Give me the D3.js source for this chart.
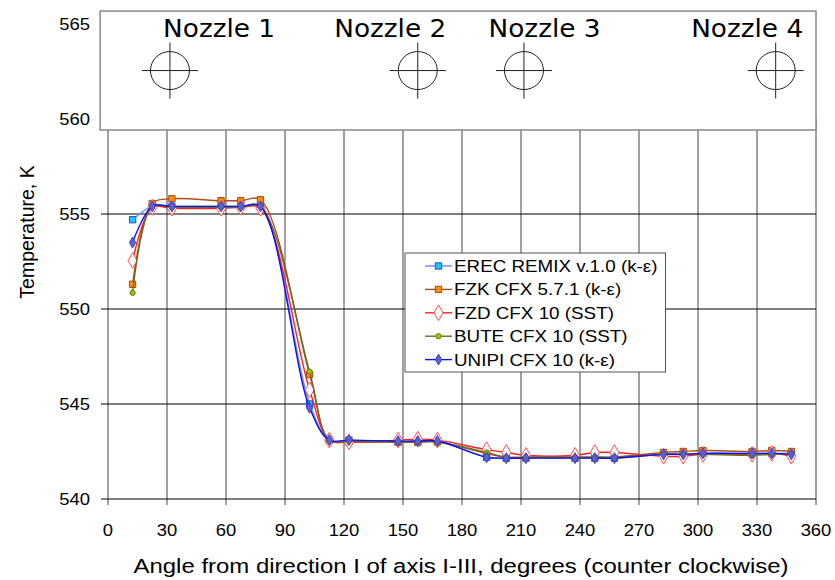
<html>
<script src="https://d3js.org/d3.v7.min.js"></script>
<body style="margin:0;background:#fff">
<style>
    text{ font-family: Arial, "Liberation Sans", sans-serif; fill:#000; }
</style>
<div id="chart"></div>
<script>
    // angles (deg) where the results were sampled
    const angles = [12.5, 22.5, 32.5, 57.5, 67.5, 77.5, 102.5, 112.5, 122.5, 147.5, 157.5, 167.5,
        192.5, 202.5, 212.5, 237.5, 247.5, 257.5, 282.5, 292.5, 302.5, 327.5, 337.5, 347.5];

    const erec  = [554.7, 555.4, 555.4, 555.4, 555.4, 555.4, 545.0, 543.1, 543.1, 543.0, 543.0, 543.05,
        542.2, 542.15, 542.15, 542.15, 542.15, 542.15, 542.35, 542.35, 542.4, 542.4, 542.4, 542.4];
    const fzk   = [551.3, 555.55, 555.8, 555.7, 555.7, 555.75, 546.55, 543.1, 543.0, 543.0, 543.0, 543.0,
        542.4, 542.2, 542.2, 542.2, 542.2, 542.2, 542.45, 542.5, 542.55, 542.5, 542.55, 542.5];
    const fzd   = [552.55, 555.35, 555.3, 555.3, 555.35, 555.3, 545.75, 543.1, 543.0, 543.1, 543.15, 543.1,
        542.6, 542.45, 542.3, 542.3, 542.45, 542.45, 542.25, 542.25, 542.35, 542.35, 542.4, 542.25];
    const bute  = [550.85, 555.4, 555.35, 555.35, 555.35, 555.4, 546.7, 543.1, 543.05, 543.0, 543.0, 543.0,
        542.45, 542.2, 542.2, 542.2, 542.2, 542.2, 542.35, 542.35, 542.35, 542.3, 542.35, 542.4];
    const unipi = [553.5, 555.4, 555.4, 555.4, 555.4, 555.4, 544.8, 543.1, 543.1, 543.05, 543.05, 543.05,
        542.2, 542.15, 542.15, 542.15, 542.15, 542.15, 542.35, 542.35, 542.4, 542.4, 542.4, 542.35];

    const seriesNames = ["EREC REMIX v.1.0 (k-\u03b5)", "FZK CFX 5.7.1 (k-\u03b5)", "FZD CFX 10 (SST)",
        "BUTE CFX 10 (SST)", "UNIPI CFX 10 (k-\u03b5)"];

    const xTicks = [0, 30, 60, 90, 120, 150, 180, 210, 240, 270, 300, 330, 360];
    const yTicks = [540, 545, 550, 555, 560, 565];

    const nozzleNames = ["Nozzle 1", "Nozzle 2", "Nozzle 3", "Nozzle 4"];
    const nozzleAngles = [31.5, 157.5, 211.5, 339.5];

    // styling per series (line, marker)
    const styles = [
        {line: "#6f86ff", shape: d3.symbolSquare, size: 40, fill: "#1ec8ff", stroke: "#2244ee"},
        {line: "#a8501e", shape: d3.symbolSquare, size: 40, fill: "#ff8c10", stroke: "#a04a10"},
        {line: "#ff2020", shape: d3.symbolDiamond, size: 70, fill: "#ffffff", stroke: "#ff5050"},
        {line: "#6b6b2a", shape: d3.symbolCircle, size: 22, fill: "#9cc400", stroke: "#6b7a10"},
        {line: "#1010f0", shape: d3.symbolDiamond, size: 34, fill: "#5a64c8", stroke: "#3a40c0"}
    ];
    const allSeries = [erec, fzk, fzd, bute, unipi];

    const W = 835, H = 580;
    const svg = d3.select("#chart").append("svg").attr("width", W).attr("height", H);

    const x = d3.scaleLinear().domain([0, 360]).range([108, 816]);
    const y = d3.scaleLinear().domain([540, 565]).range([499, 24]);

    // stretch text a bit horizontally, the original is wider than plain Arial
    function stretch(sel, k) {
        sel.each(function () {
            let w = this.getComputedTextLength();
            d3.select(this).attr("textLength", w * k).attr("lengthAdjust", "spacingAndGlyphs");
        });
    }

    // grid - vertical gray, horizontal black
    svg.append("g").selectAll("line").data(xTicks).enter().append("line")
        .attr("x1", d => x(d)).attr("x2", d => x(d))
        .attr("y1", y(560)).attr("y2", y(540) + 6)
        .attr("stroke", "#8a8a8a").attr("stroke-width", 1.6);
    svg.append("g").selectAll("line").data(yTicks.filter(d => d > 540 && d < 560)).enter().append("line")
        .attr("x1", x(0) - 7).attr("x2", x(360))
        .attr("y1", d => y(d)).attr("y2", d => y(d))
        .attr("stroke", "#000").attr("stroke-width", 1);
    // x axis line
    svg.append("line").attr("x1", x(0) - 7).attr("x2", x(360))
        .attr("y1", y(540)).attr("y2", y(540)).attr("stroke", "#000").attr("stroke-width", 1);

    // tick labels
    let xl = svg.append("g").selectAll("text").data(xTicks).enter().append("text")
        .attr("x", d => x(d)).attr("y", 536)
        .attr("text-anchor", "middle").attr("font-size", "16px").text(d => d);
    stretch(xl, 1.15);
    let yl = svg.append("g").selectAll("text").data(yTicks).enter().append("text")
        .attr("x", 90).attr("y", d => y(d) + 6)
        .attr("text-anchor", "end").attr("font-size", "16px").text(d => d);
    stretch(yl, 1.15);

    // axis titles
    let xt = svg.append("text").attr("x", 461).attr("y", 573).attr("text-anchor", "middle")
        .attr("font-size", "19.5px").text("Angle from direction I of axis I-III, degrees (counter clockwise)");
    xt.attr("textLength", 655).attr("lengthAdjust", "spacingAndGlyphs");
    svg.append("text").attr("transform", "translate(34,232) rotate(-90)").attr("text-anchor", "middle")
        .attr("font-size", "19.5px").text("Temperature, K");

    // nozzle sketch on top
    const band = svg.append("g");
    band.append("rect").attr("x", x(-4)).attr("y", y(565.68))
        .attr("width", x(360) - x(-4)).attr("height", y(559.42) - y(565.68))
        .attr("fill", "#fff").attr("stroke", "#8a8a8a").attr("stroke-width", 1.5);
    const cy = y(562.55);
    const nz = band.selectAll(".nozzle").data(nozzleAngles).enter().append("g").attr("class", "nozzle");
    nz.append("ellipse").attr("cx", d => x(d)).attr("cy", cy).attr("rx", 19.5).attr("ry", 19)
        .attr("fill", "none").attr("stroke", "#222").attr("stroke-width", 1);
    nz.append("line").attr("x1", d => x(d) - 28).attr("x2", d => x(d) + 28).attr("y1", cy).attr("y2", cy)
        .attr("stroke", "#222").attr("stroke-width", 1);
    nz.append("line").attr("x1", d => x(d)).attr("x2", d => x(d)).attr("y1", cy - 28).attr("y2", cy + 28)
        .attr("stroke", "#222").attr("stroke-width", 1);
    // label placement in degrees (layout only)
    const nozzleLabelAt = [56.5, 143.5, 222, 325];
    band.selectAll(".nlabel").data(nozzleNames).enter().append("text").attr("class", "nlabel")
        .attr("x", (d, i) => x(nozzleLabelAt[i])).attr("y", 37)
        .attr("text-anchor", "middle").attr("font-size", "25px")
        .style("font-family", "'DejaVu Sans Condensed', 'DejaVu Sans', sans-serif")
        .attr("textLength", 112).attr("lengthAdjust", "spacingAndGlyphs")
        .text(d => d);

    // the curves
    const line = d3.line().x(d => x(d[0])).y(d => y(d[1])).curve(d3.curveCatmullRom.alpha(0.5));
    allSeries.forEach((vals, i) => {
        let pts = angles.map((a, j) => [a, vals[j]]);
        let g = svg.append("g");
        g.append("path").attr("d", line(pts)).attr("fill", "none")
            .attr("stroke", styles[i].line).attr("stroke-width", 1.4);
        g.selectAll("path.m").data(pts).enter().append("path").attr("class", "m")
            .attr("d", d3.symbol().type(styles[i].shape).size(styles[i].size))
            .attr("transform", d => `translate(${x(d[0])},${y(d[1])})`)
            .attr("fill", styles[i].fill).attr("stroke", styles[i].stroke).attr("stroke-width", 1);
    });

    // legend
    const lg = svg.append("g");
    const lgBox = lg.append("rect").attr("x", 405).attr("y", 253).attr("height", 119)
        .attr("fill", "#fff").attr("stroke", "#555").attr("stroke-width", 1);
    let maxW = 0;
    seriesNames.forEach((name, i) => {
        let ry = 266 + i * 23.4;
        lg.append("line").attr("x1", 425).attr("x2", 452).attr("y1", ry).attr("y2", ry)
            .attr("stroke", styles[i].line).attr("stroke-width", 1.4);
        lg.append("path").attr("d", d3.symbol().type(styles[i].shape).size(styles[i].size))
            .attr("transform", `translate(438.5,${ry})`)
            .attr("fill", styles[i].fill).attr("stroke", styles[i].stroke).attr("stroke-width", 1);
        let t = lg.append("text").attr("x", 454).attr("y", ry + 6).attr("font-size", "16.5px").text(name);
        stretch(t, 1.14);
        maxW = Math.max(maxW, +t.attr("textLength"));
    });
    lgBox.attr("width", 454 + maxW + 8 - 405);
</script>
</body>
</html>
